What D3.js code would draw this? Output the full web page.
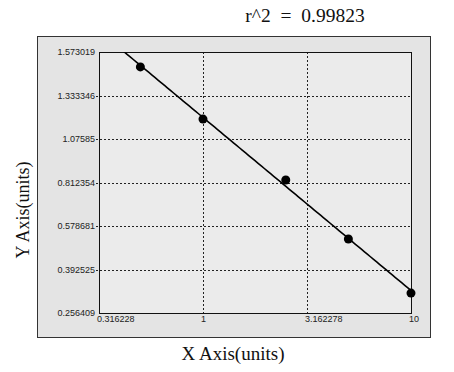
<!DOCTYPE html>
<html>
<head>
<meta charset="utf-8">
<script src="https://cdn.jsdelivr.net/npm/d3@7"></script>
<style>
  body { margin: 0; background: #fff; }
  svg { display: block; }
</style>
</head>
<body>
<svg id="chart" width="454" height="372"></svg>
<script>
// standard concentrations (x) and measured response (y)
var xValues = [0.5, 1, 2.5, 5, 10];
var yValues = [1.418, 0.987, 0.646, 0.429, 0.2945];

var xTicks = [0.316228, 1, 3.162278, 10];
var xTickLabels = ["0.316228", "1", "3.162278", "10"];
var yTickLabels = ["0.256409", "0.392525", "0.578681", "0.812354", "1.07585", "1.333346", "1.573019"];
var yMin = 0.256409, yMax = 1.573019;
var r2Text = "r^2  =  0.99823";

var svg = d3.select("#chart");
var plot = { left: 99, right: 411, top: 52, bottom: 313 };
var serif = "'Liberation Serif', 'Times New Roman', serif";
var sans = "'Liberation Sans', Arial, sans-serif";

// outer panel
svg.append("rect")
  .attr("x", 37.5).attr("y", 36.5)
  .attr("width", 393).attr("height", 301)
  .attr("fill", "#e4e4e4")
  .attr("stroke", "#333").attr("stroke-width", 1);

svg.append("rect")
  .attr("x", plot.left).attr("y", plot.top)
  .attr("width", plot.right - plot.left).attr("height", plot.bottom - plot.top)
  .attr("fill", "#ebebeb");

var x = d3.scaleLog().domain([xTicks[0], xTicks[xTicks.length - 1]]).range([plot.left, plot.right]);
var y = d3.scaleLog().domain([yMin, yMax]).range([plot.bottom, plot.top]);

// y gridlines sit evenly in log space, labelled with the printed values
var yTickPos = yTickLabels.map(function (d, i) {
  return plot.bottom - i * (plot.bottom - plot.top) / (yTickLabels.length - 1);
});

var grid = svg.append("g");
grid.selectAll("line.hg")
  .data(yTickPos.slice(1, -1))
  .enter().append("line")
  .attr("x1", plot.left - 3).attr("x2", plot.right)
  .attr("y1", function (d) { return Math.round(d) + 0.5; })
  .attr("y2", function (d) { return Math.round(d) + 0.5; })
  .attr("stroke", "#222").attr("stroke-width", 1)
  .attr("stroke-dasharray", "2,2");

grid.selectAll("line.vg")
  .data(xTicks.slice(1, -1))
  .enter().append("line")
  .attr("x1", function (d) { return Math.round(x(d)) + 0.5; })
  .attr("x2", function (d) { return Math.round(x(d)) + 0.5; })
  .attr("y1", plot.top).attr("y2", plot.bottom + 3)
  .attr("stroke", "#222").attr("stroke-width", 1)
  .attr("stroke-dasharray", "2,2");

// frame
svg.append("rect")
  .attr("x", plot.left + 0.5).attr("y", plot.top + 0.5)
  .attr("width", plot.right - plot.left).attr("height", plot.bottom - plot.top)
  .attr("fill", "none").attr("stroke", "#111").attr("stroke-width", 1);

// tick labels
svg.append("g").selectAll("text")
  .data(yTickLabels)
  .enter().append("text")
  .attr("x", plot.left - 4)
  .attr("y", function (d, i) { return yTickPos[i]; })
  .attr("dy", "0.35em")
  .attr("text-anchor", "end")
  .attr("font-family", sans)
  .attr("font-size", 9)
  .attr("fill", "#222")
  .text(function (d) { return d; });

svg.append("g").selectAll("text")
  .data(xTicks)
  .enter().append("text")
  .attr("x", function (d) { return x(d) - 2; })
  .attr("y", plot.bottom + 9)
  .attr("text-anchor", "start")
  .attr("font-family", sans)
  .attr("font-size", 9)
  .attr("fill", "#222")
  .text(function (d, i) { return xTickLabels[i]; });

// log-log least squares fit
var lx = xValues.map(Math.log), ly = yValues.map(Math.log);
var mx = d3.mean(lx), my = d3.mean(ly);
var slope = d3.sum(lx, function (d, i) { return (d - mx) * (ly[i] - my); }) /
            d3.sum(lx, function (d) { return (d - mx) * (d - mx); });
var icpt = my - slope * mx;
var fit = function (v) { return Math.exp(icpt + slope * Math.log(v)); };

svg.append("clipPath").attr("id", "clip")
  .append("rect")
  .attr("x", plot.left).attr("y", plot.top)
  .attr("width", plot.right - plot.left).attr("height", plot.bottom - plot.top);

var xs = d3.range(0, 101).map(function (i) {
  return Math.exp(Math.log(xTicks[0]) + i / 100 * (Math.log(xTicks[xTicks.length - 1]) - Math.log(xTicks[0])));
});
svg.append("path")
  .datum(xs)
  .attr("clip-path", "url(#clip)")
  .attr("fill", "none")
  .attr("stroke", "#000")
  .attr("stroke-width", 1.6)
  .attr("d", d3.line().x(function (d) { return x(d); }).y(function (d) { return y(fit(d)); }));

svg.append("g").selectAll("circle")
  .data(xValues)
  .enter().append("circle")
  .attr("cx", function (d) { return x(d); })
  .attr("cy", function (d, i) { return y(yValues[i]); })
  .attr("r", 4.5)
  .attr("fill", "#000");

// titles
svg.append("text")
  .attr("x", 305).attr("y", 22)
  .attr("text-anchor", "middle")
  .attr("font-family", serif)
  .attr("font-size", 19.5)
  .attr("fill", "#111")
  .style("white-space", "pre")
  .text(r2Text);

svg.append("text")
  .attr("x", 233).attr("y", 360)
  .attr("text-anchor", "middle")
  .attr("font-family", serif)
  .attr("font-size", 19)
  .attr("fill", "#111")
  .text("X Axis(units)");

svg.append("text")
  .attr("transform", "translate(29,210) rotate(-90)")
  .attr("text-anchor", "middle")
  .attr("font-family", serif)
  .attr("font-size", 18)
  .attr("fill", "#111")
  .text("Y Axis(units)");
</script>
</body>
</html>
